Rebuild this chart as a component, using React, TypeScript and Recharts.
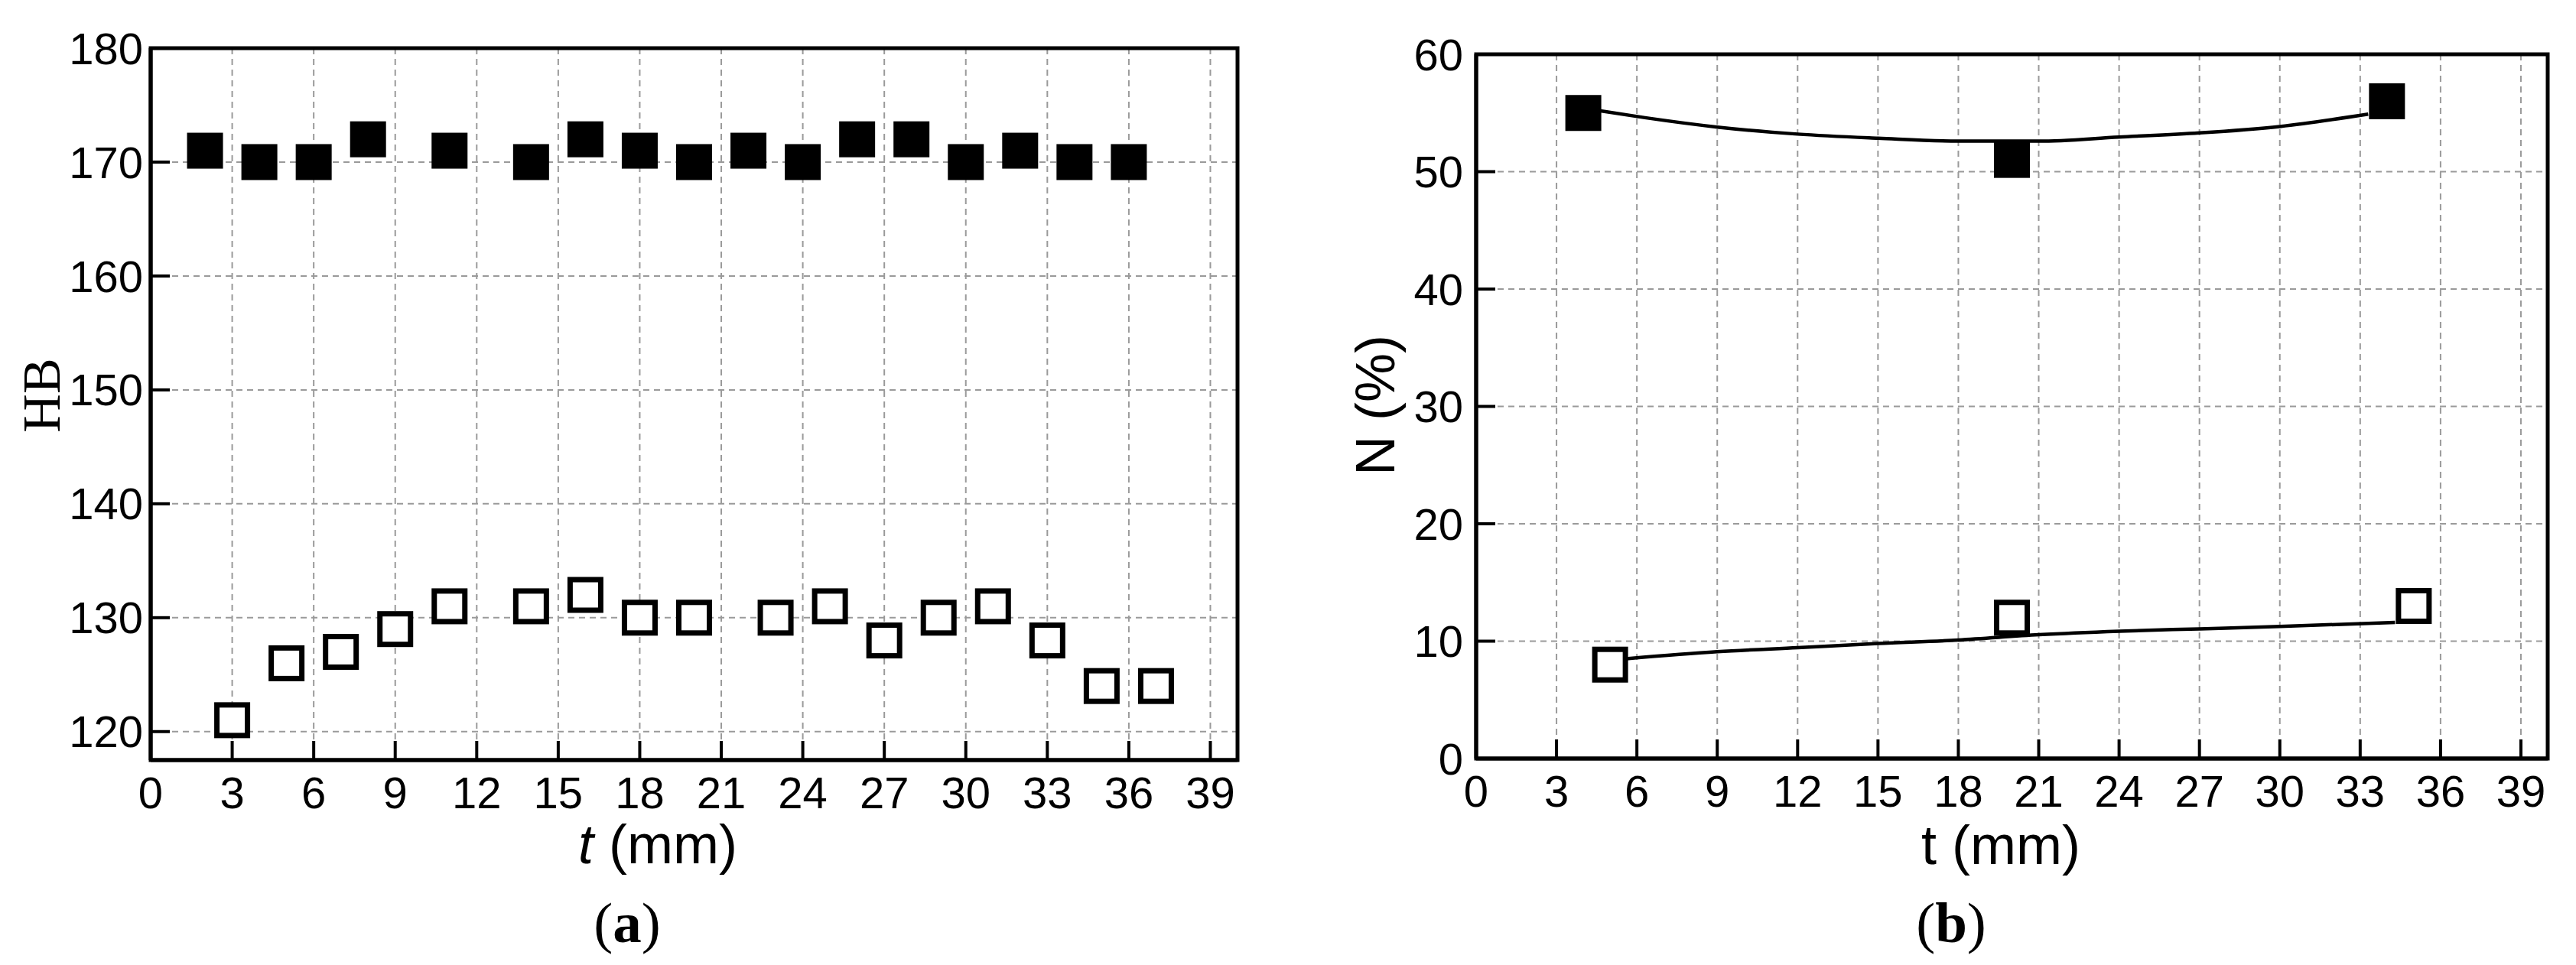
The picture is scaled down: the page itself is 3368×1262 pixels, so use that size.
import React from 'react';
import {
  ComposedChart,
  Scatter,
  Line,
  XAxis,
  YAxis,
  CartesianGrid,
  ReferenceArea,
} from 'recharts';

// ---------- Data: panel (a) HB vs t ----------
const hbFilledX = [2, 4, 6, 8, 11, 14, 16, 18, 20, 22, 24, 26, 28, 30, 32, 34, 36];
const hbFilledY = [171, 170, 170, 172, 171, 170, 172, 171, 170, 171, 170, 172, 172, 170, 171, 170, 170];
const hbOpenX = [3, 5, 7, 9, 11, 14, 16, 18, 20, 23, 25, 27, 29, 31, 33, 35, 37];
const hbOpenY = [121, 126, 127, 129, 131, 131, 132, 130, 130, 130, 131, 128, 130, 131, 128, 124, 124];

// ---------- Data: panel (b) N vs t ----------
const nFilledX = [4, 20, 34];
const nFilledY = [55, 51, 56];
const nOpenX = [5, 20, 35];
const nOpenY = [8, 12, 13];
// fitted curves
const fitFilledX = [4.6, 6.3, 9, 12, 15, 18, 21, 24, 27, 30, 33.3];
const fitFilledY = [55.2, 54.6, 53.8, 53.2, 52.85, 52.6, 52.6, 52.95, 53.3, 53.85, 54.9];
const fitOpenX = [5.6, 9, 12, 15, 18, 21, 24, 27, 30, 34.3];
const fitOpenY = [8.5, 9.1, 9.45, 9.8, 10.1, 10.55, 10.85, 11.05, 11.25, 11.6];

// ---------- Axes ----------
const xTicks = [0, 3, 6, 9, 12, 15, 18, 21, 24, 27, 30, 33, 36, 39];
const xDomain = [0, 40];
const hbTicks = [120, 130, 140, 150, 160, 170, 180];
const hbDomain = [117.5, 180];
const nTicks = [0, 10, 20, 30, 40, 50, 60];
const nDomain = [0, 60];

const zip = (xs: number[], ys: number[]) => xs.map((x, i) => ({ x, y: ys[i] }));

const hbFilled = zip(hbFilledX, hbFilledY);
const hbOpen = zip(hbOpenX, hbOpenY);
const nFilled = zip(nFilledX, nFilledY);
const nOpen = zip(nOpenX, nOpenY);
const fitFilled = zip(fitFilledX, fitFilledY);
const fitOpen = zip(fitOpenX, fitOpenY);

const SQ = 47;
const FilledSquare = (props: any) => {
  const { cx, cy } = props;
  if (cx == null || cy == null) return null;
  return <rect x={cx - SQ / 2} y={cy - SQ / 2} width={SQ} height={SQ} fill="#000" />;
};
const OpenSquare = (props: any) => {
  const { cx, cy } = props;
  if (cx == null || cy == null) return null;
  const sw = 7;
  const w = SQ - sw;
  return (
    <rect x={cx - w / 2} y={cy - w / 2} width={w} height={w} fill="#fff" stroke="#000" strokeWidth={sw} />
  );
};

const FONT = '"Liberation Sans", Arial, sans-serif';
const SERIF = '"Liberation Serif", "Times New Roman", serif';
const tickStyle = { fontSize: 58, fontFamily: FONT, fill: '#000' };
const gridProps = { stroke: '#9a9a9a', strokeWidth: 2, strokeDasharray: '8 6' };

export default function App() {
  return (
    <div
      style={{
        position: 'absolute',
        left: 0,
        top: 0,
        width: 3368,
        height: 1262,
        background: '#fff',
        overflow: 'hidden',
      }}
    >
      {/* Panel (a) */}
      <div style={{ position: 'absolute', left: 0, top: 0 }}>
        <ComposedChart width={1700} height={1262} margin={{ top: 63, right: 82, left: 0, bottom: 0 }}>
          <CartesianGrid {...gridProps} />
          <XAxis
            dataKey="x"
            type="number"
            domain={xDomain}
            ticks={xTicks}
            height={268}
            allowDataOverflow
            tick={tickStyle}
            tickSize={-25}
            tickMargin={47}
            axisLine={{ stroke: '#000', strokeWidth: 5 }}
            tickLine={{ stroke: '#000', strokeWidth: 4 }}
          />
          <YAxis
            dataKey="y"
            type="number"
            domain={hbDomain}
            ticks={hbTicks}
            width={197}
            allowDataOverflow
            tick={tickStyle}
            tickSize={-25}
            tickMargin={35}
            axisLine={{ stroke: '#000', strokeWidth: 5 }}
            tickLine={{ stroke: '#000', strokeWidth: 4 }}
          />
          <ReferenceArea
            x1={xDomain[0]}
            x2={xDomain[1]}
            y1={hbDomain[0]}
            y2={hbDomain[1]}
            fill="none"
            fillOpacity={0}
            stroke="#000"
            strokeWidth={5}
            strokeOpacity={1}
          />
          <Scatter data={hbFilled} dataKey="y" shape={FilledSquare} isAnimationActive={false} />
          <Scatter data={hbOpen} dataKey="y" shape={OpenSquare} isAnimationActive={false} />
        </ComposedChart>
      </div>

      {/* Panel (b) */}
      <div style={{ position: 'absolute', left: 1700, top: 0 }}>
        <ComposedChart width={1668} height={1262} margin={{ top: 71, right: 37, left: 0, bottom: 0 }}>
          <CartesianGrid {...gridProps} />
          <XAxis
            dataKey="x"
            type="number"
            domain={xDomain}
            ticks={xTicks}
            height={270}
            allowDataOverflow
            tick={tickStyle}
            tickSize={-25}
            tickMargin={47}
            axisLine={{ stroke: '#000', strokeWidth: 5 }}
            tickLine={{ stroke: '#000', strokeWidth: 4 }}
          />
          <YAxis
            dataKey="y"
            type="number"
            domain={nDomain}
            ticks={nTicks}
            width={230}
            allowDataOverflow
            tick={tickStyle}
            tickSize={-25}
            tickMargin={42}
            axisLine={{ stroke: '#000', strokeWidth: 5 }}
            tickLine={{ stroke: '#000', strokeWidth: 4 }}
          />
          <ReferenceArea
            x1={xDomain[0]}
            x2={xDomain[1]}
            y1={nDomain[0]}
            y2={nDomain[1]}
            fill="none"
            fillOpacity={0}
            stroke="#000"
            strokeWidth={5}
            strokeOpacity={1}
          />
          <Line data={fitFilled} dataKey="y" type="monotone" dot={false} activeDot={false} stroke="#000" strokeWidth={4.5} isAnimationActive={false} />
          <Line data={fitOpen} dataKey="y" type="monotone" dot={false} activeDot={false} stroke="#000" strokeWidth={4.5} isAnimationActive={false} />
          <Scatter data={nFilled} dataKey="y" shape={FilledSquare} isAnimationActive={false} />
          <Scatter data={nOpen} dataKey="y" shape={OpenSquare} isAnimationActive={false} />
        </ComposedChart>
      </div>

      {/* Titles and captions */}
      <svg
        width={3368}
        height={1262}
        style={{ position: 'absolute', left: 0, top: 0, pointerEvents: 'none' }}
      >
        <text
          transform="translate(78,517) rotate(-90)"
          textAnchor="middle"
          fontFamily={SERIF}
          fontSize={70}
          fill="#000"
        >
          HB
        </text>
        <text x={860} y={1129} textAnchor="middle" fontFamily={FONT} fontSize={72} fill="#000">
          <tspan fontStyle="italic">t</tspan> (mm)
        </text>
        <text x={820} y={1232} textAnchor="middle" fontFamily={SERIF} fontSize={75} fill="#000">
          (<tspan fontWeight="bold">a</tspan>)
        </text>

        <text
          transform="translate(1823,530) rotate(-90)"
          textAnchor="middle"
          fontFamily={FONT}
          fontSize={72}
          fill="#000"
        >
          N (%)
        </text>
        <text x={2616} y={1130} textAnchor="middle" fontFamily={FONT} fontSize={72} fill="#000">
          t (mm)
        </text>
        <text x={2551} y={1232} textAnchor="middle" fontFamily={SERIF} fontSize={75} fill="#000">
          (<tspan fontWeight="bold">b</tspan>)
        </text>
      </svg>
    </div>
  );
}
